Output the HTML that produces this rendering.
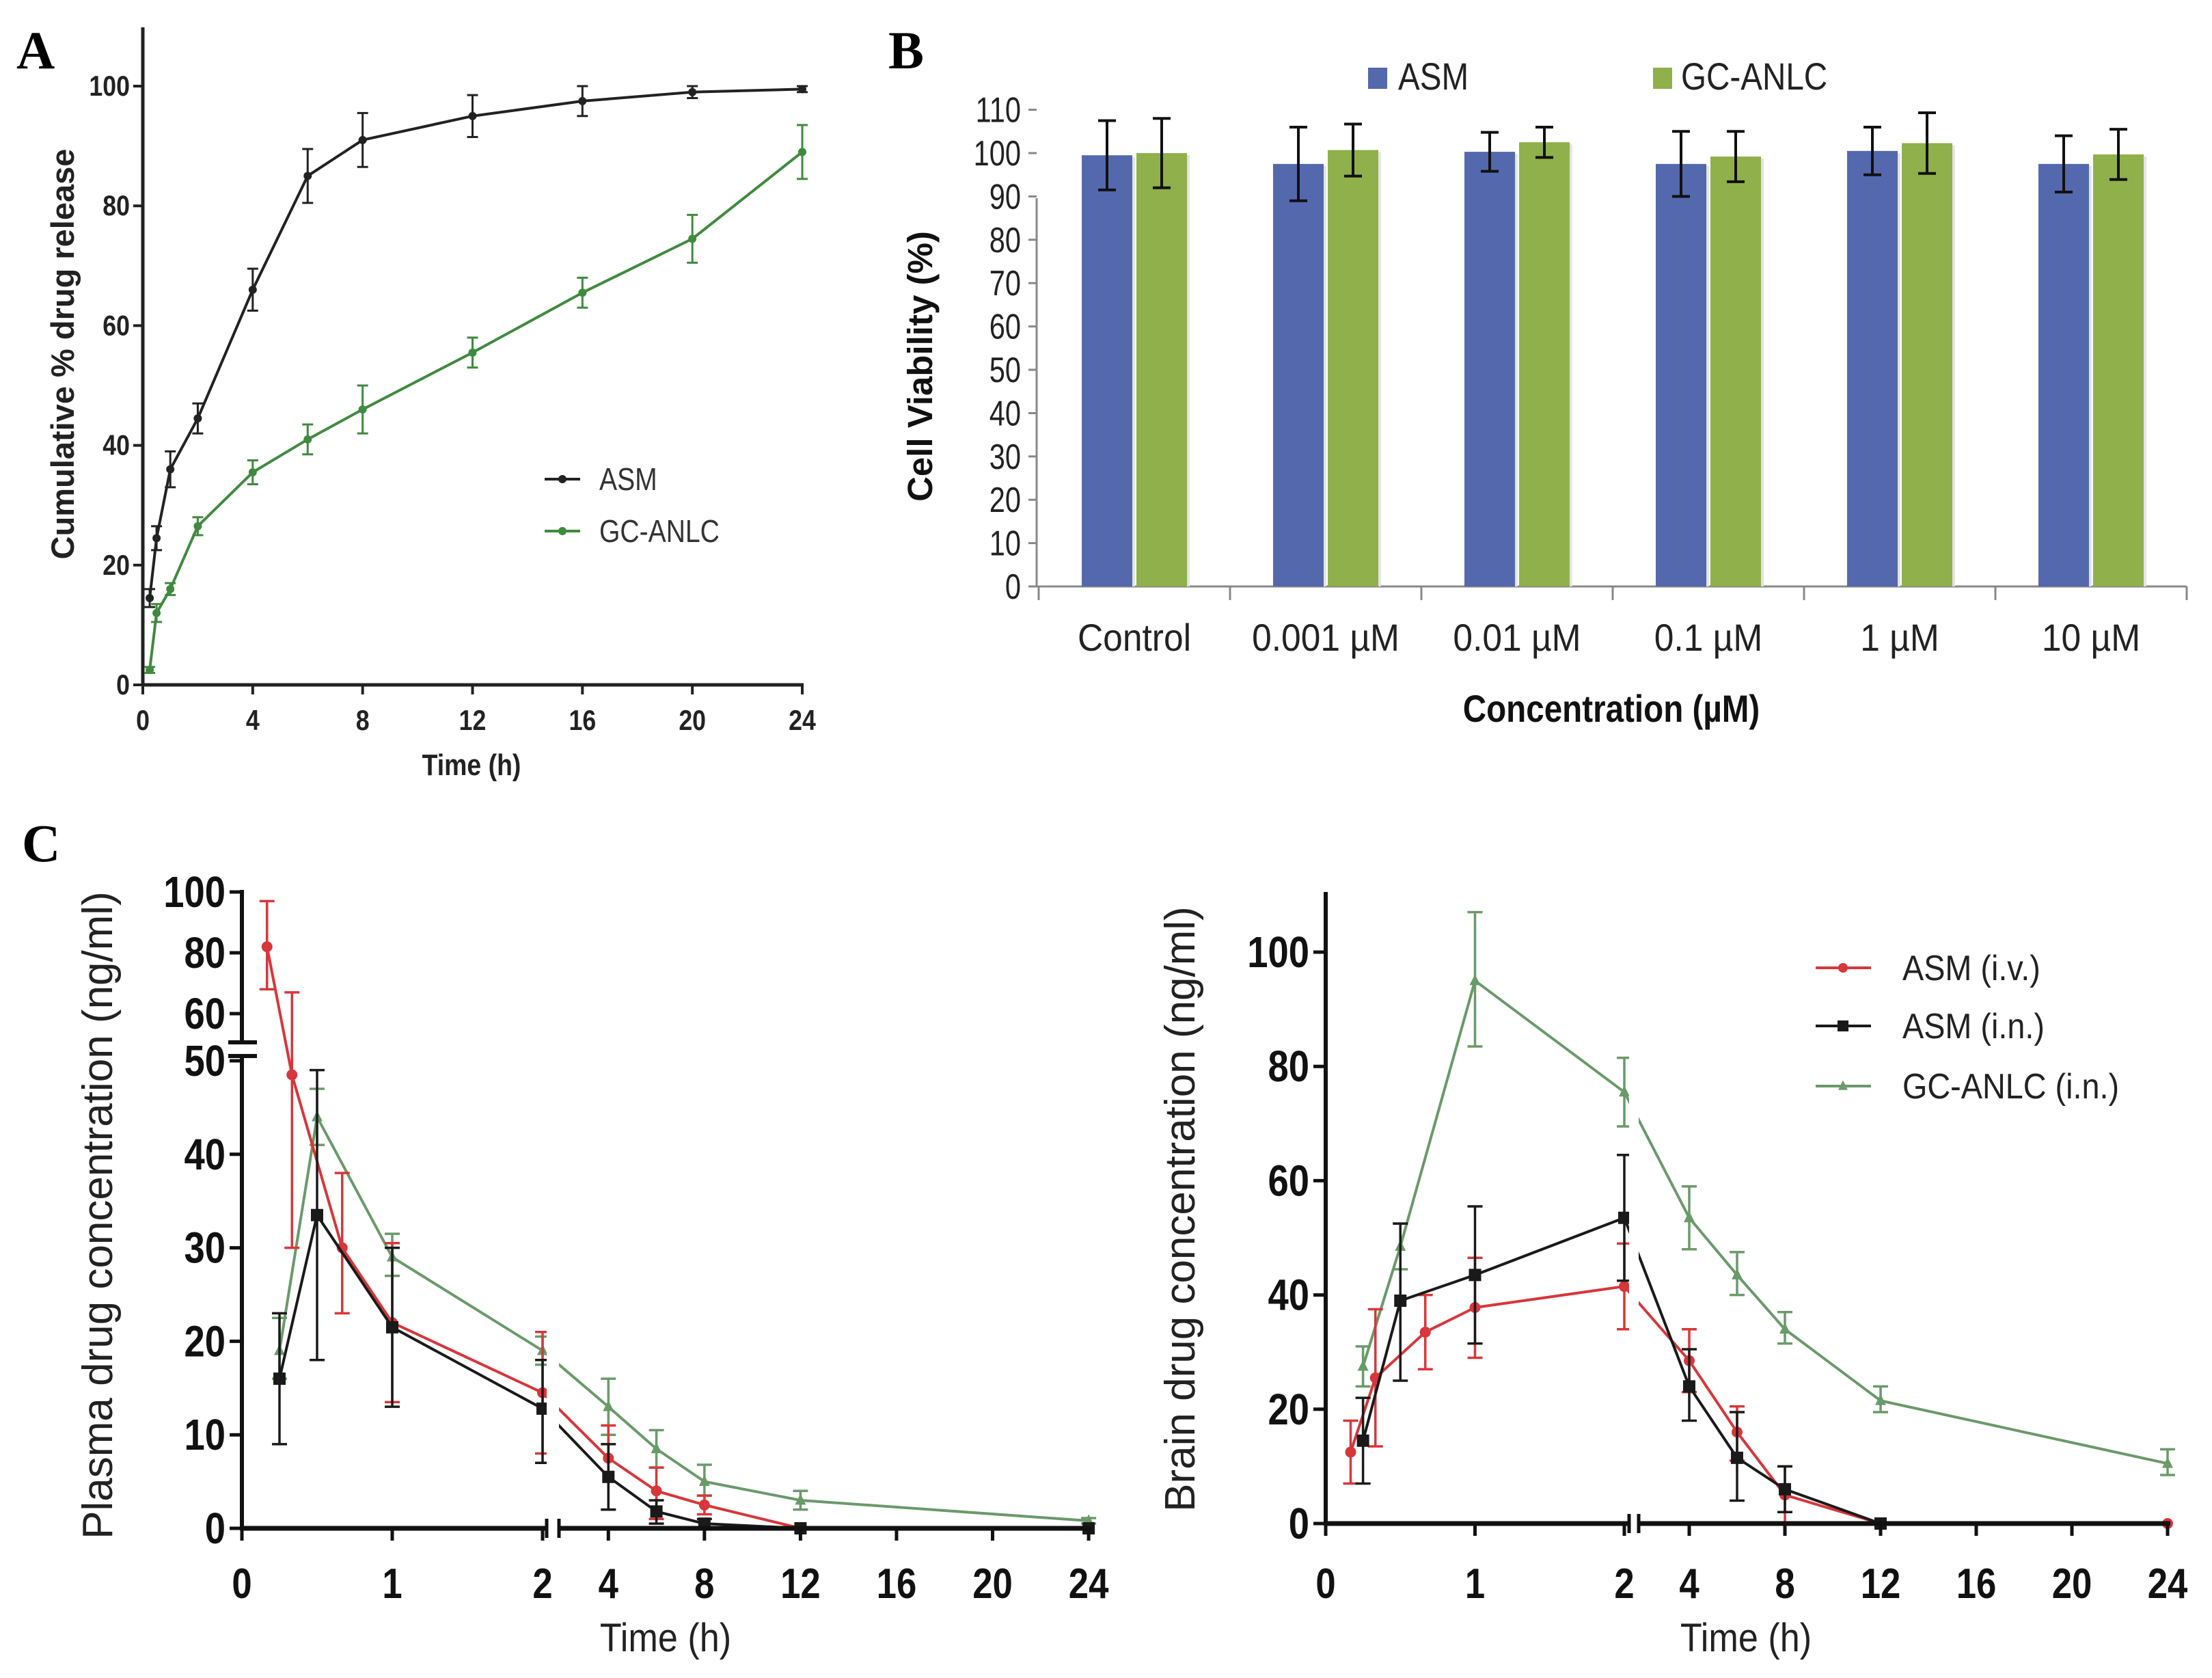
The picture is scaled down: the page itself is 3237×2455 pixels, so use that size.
<!DOCTYPE html>
<html><head><meta charset="utf-8"><style>
html,body{margin:0;padding:0;background:#fff;}
svg{display:block;}
</style></head><body>
<svg id="fig" xmlns="http://www.w3.org/2000/svg" width="3237" height="2455" viewBox="0 0 3237 2455" font-family="'Liberation Sans', sans-serif">
<rect width="3237" height="2455" fill="#fff"/>
<text x="24" y="100" font-family="'Liberation Serif', serif" font-weight="bold" font-size="78">A</text>
<text x="1300" y="100" font-family="'Liberation Serif', serif" font-weight="bold" font-size="78">B</text>
<text x="32" y="1260" font-family="'Liberation Serif', serif" font-weight="bold" font-size="78">C</text>
<g id="gA"></g>
<g id="gB"></g>
<g id="gC1"></g>
<g id="gC2"></g>
</svg>
<script>
// ---------- Panel A data ----------
const aTimes=[0.25,0.5,1,2,4,6,8,12,16,20,24];
const aAsm=[14.5,24.5,36,44.5,66,85,91,95,97.5,99,99.5];
const aAsmErr=[1.5,2,3,2.5,3.5,4.5,4.5,3.5,2.5,1,0.5];
const aGc=[2.5,12,16,26.5,35.5,41,46,55.5,65.5,74.5,89];
const aGcErr=[0.5,1.5,1,1.5,2,2.5,4,2.5,2.5,4,4.5];
const aXTicks=[0,4,8,12,16,20,24];
const aYTicks=[0,20,40,60,80,100];
// ---------- Panel B data ----------
const bCats=["Control","0.001 µM","0.01 µM","0.1 µM","1 µM","10 µM"];
const bAsm=[99.5,97.5,100.3,97.5,100.5,97.5];
const bAsmErr=[8,8.5,4.5,7.5,5.5,6.5];
const bGc=[100,100.7,102.5,99.2,102.3,99.7];
const bGcErr=[8,6,3.5,5.8,7,5.8];
const bYTicks=[0,10,20,30,40,50,60,70,80,90,100,110];
// ---------- Panel C plasma ----------
const pIvT=[0.167,0.333,0.667,1,2,4,6,8,12,24];
const pIv=[82,48.5,30,22,14.5,7.5,4,2.5,0,0];
const pIvLo=[68,30,23,13.5,8,2,1,1.5,0,0];
const pIvHi=[97,67,38,30.5,21,11,6.5,3.5,0,0];
const pInT=[0.25,0.5,1,2,4,6,8,12,24];
const pIn=[16,33.5,21.5,12.8,5.5,1.8,0.5,0,0];
const pInLo=[9,18,13,7,2,0.5,0,0,0];
const pInHi=[23,49,30,18,9,3,1,0,0];
const pGcT=[0.25,0.5,1,2,4,6,8,12,24];
const pGc=[19,44,29,19,13,8.5,5,3,0.8];
const pGcLo=[16,41,27,17.5,10,6.5,3.5,2,0.5];
const pGcHi=[22.5,47,31.5,20.5,16,10.5,6.8,4,1.1];
// ---------- Panel C brain ----------
const rIvT=[0.167,0.333,0.667,1,2,4,6,8,12,24];
const rIv=[12.5,25.5,33.5,37.8,41.5,28.5,16,5,0,0];
const rIvLo=[7,13.5,27,29,34,23,11,0,0,0];
const rIvHi=[18,37.5,40,46.5,49,34,20.5,10,0,0];
const rInT=[0.25,0.5,1,2,4,6,8,12];
const rIn=[14.5,39,43.5,53.5,24,11.5,6,0];
const rInLo=[7,25,31.5,42.5,18,4,2,0];
const rInHi=[22,52.5,55.5,64.5,30.5,19.5,10,0];
const rGcT=[0.25,0.5,1,2,4,6,8,12,24];
const rGc=[27.5,48.5,95,75.5,53.5,43.5,34,21.5,10.5];
const rGcLo=[24,44.5,83.5,69.5,48,40,31.5,19.5,8.5];
const rGcHi=[31,52.5,107,81.5,59,47.5,37,24,13];
const cXTicks=[0,1,2,4,8,12,16,20,24];

const NS="http://www.w3.org/2000/svg";
function mk(parent,tag,attrs,text){const e=document.createElementNS(NS,tag);for(const k in attrs)e.setAttribute(k,attrs[k]);if(text!==undefined)e.textContent=text;parent.appendChild(e);return e;}
function line(p,x1,y1,x2,y2,c,w){return mk(p,'line',{x1,y1,x2,y2,stroke:c,'stroke-width':w});}
function ebar(p,x,y1,y2,c,w,cap){const g=mk(p,'g',{});


line(g,x,y1,x,y2,c,w);line(g,x-cap,y1,x+cap,y1,c,w);line(g,x-cap,y2,x+cap,y2,c,w);return g;}
function poly(p,xs,ys,c,w){let d='';for(let i=0;i<xs.length;i++)d+=(i?'L':'M')+xs[i]+' '+ys[i];return mk(p,'path',{d,fill:'none',stroke:c,'stroke-width':w,'stroke-linejoin':'round'});}
function marker(p,type,x,y,c,s){
 if(type==='c')return mk(p,'circle',{cx:x,cy:y,r:s,fill:c});
 if(type==='s')return mk(p,'rect',{x:x-s,y:y-s,width:2*s,height:2*s,fill:c});
 return mk(p,'path',{d:`M${x} ${y-s*1.2}L${x+s} ${y+s*0.8}L${x-s} ${y+s*0.8}Z`,fill:c});
}
// narrow text: scaled horizontally around its anchor point
function ntext(p,x,y,str,attrs,sx){attrs.x=0;attrs.y=0;attrs.transform=`translate(${x},${y}) scale(${sx},1)`;return mk(p,'text',attrs,str);}

// ================= Panel A =================
(function(){
const g=document.getElementById('gA');
const X=t=>209+t*(1174-209)/24, Y=v=>1002-v*8.76;
line(g,209,40,209,1002,'#222',5);line(g,207,1002,1176,1002,'#222',5);
aYTicks.forEach(v=>{line(g,195,Y(v),209,Y(v),'#222',4);
 const t=ntext(g,190,Y(v)+14,String(v),{'text-anchor':'end','font-size':42,'font-weight':'bold',fill:'#222'},0.85);
 
 });
aXTicks.forEach(v=>{line(g,X(v),1002,X(v),1016,'#222',4);
 const t=ntext(g,X(v),1068,String(v),{'text-anchor':'middle','font-size':42,'font-weight':'bold',fill:'#222'},0.85);
 
 });
const xt=ntext(g,690,1134,'Time (h)',{'text-anchor':'middle','font-size':44,'font-weight':'bold',fill:'#222'},0.85);


const yt=mk(g,'text',{x:0,y:0,transform:'translate(108,518) rotate(-90)','text-anchor':'middle','font-size':47,'font-weight':'bold',fill:'#222'},'Cumulative % drug release');


const series=[[aAsm,aAsmErr,'#222','asm'],[aGc,aGcErr,'#3f8a3f','gc-anlc']];
series.forEach(([vals,err,c,n])=>{
 const sg=mk(g,'g',{});
 
 
 poly(sg,aTimes.map(X),vals.map(Y),c,4);
 aTimes.forEach((t,i)=>{ebar(sg,X(t),Y(vals[i]-err[i]),Y(vals[i]+err[i]),c,3,8);
  const m=marker(sg,'c',X(t),Y(vals[i]),c,6);
  
  });
});
[['ASM','#222',701],['GC-ANLC','#3f8a3f',777]].forEach(([l,c,y])=>{
 const lg=mk(g,'g',{});
 
 
 line(lg,797,y,849,y,c,4);marker(lg,'c',823,y,c,6);
 ntext(lg,877,y+16,l,{'font-size':46,fill:'#333'},0.85);
});
})();

// ================= Panel B =================
(function(){
const g=document.getElementById('gB');
const Y=v=>858-v*6.34, cw=280, x0=1520;
line(g,1517,290,1517,858,'#888',3);line(g,1517,858,3200,858,'#888',3);
bYTicks.forEach(v=>{line(g,1505,Y(v),1517,Y(v),'#888',3);
 const t=ntext(g,1494,Y(v)+18,String(v),{'text-anchor':'end','font-size':52,fill:'#222'},0.8);
 
 });
for(let i=0;i<=bCats.length;i++)line(g,x0+i*cw,858,x0+i*cw,878,'#888',3);
bCats.forEach((c,i)=>{
 const bx=x0+i*cw;
 [[bAsm,bAsmErr,'#5468ad',63,'asm'],[bGc,bGcErr,'#8fb04a',143,'gc-anlc']].forEach(([vals,err,col,off,n])=>{
  mk(g,'rect',{x:bx+off+4,y:Y(vals[i])+3,width:74,height:858-Y(vals[i])-3,fill:'#e4e4e4'});
  const r=mk(g,'rect',{x:bx+off,y:Y(vals[i]),width:74,height:858-Y(vals[i]),fill:col});
  
  
  ebar(g,bx+off+37,Y(vals[i]-err[i]),Y(vals[i]+err[i]),'#111',4,13);
 });
 const t=ntext(g,bx+140,952,c,{'text-anchor':'middle','font-size':56,fill:'#222'},0.92);
 
 
});
const xt=ntext(g,2358,1056,'Concentration (µM)',{'text-anchor':'middle','font-size':56,'font-weight':'bold',fill:'#111'},0.85);


const yt=mk(g,'text',{x:0,y:0,transform:'translate(1364,536) rotate(-90)','text-anchor':'middle','font-size':51,'font-weight':'bold',fill:'#111'},'Cell Viability (%)');


[['ASM','#5468ad',2002,2046],['GC-ANLC','#8fb04a',2419,2460]].forEach(([l,c,sx,tx])=>{
 const lg=mk(g,'g',{});
 
 
 mk(lg,'rect',{x:sx,y:99,width:28,height:31,fill:c});
 ntext(lg,tx,131,l,{'font-size':56,fill:'#222'},0.85);
});
})();

// ================= Panel C helper =================
function drawPK(g,X,Y,axis,series,yTicks,yTitle,yTitleX,tc){
 series.forEach(([ts,vals,lo,hi,c,mt,n])=>{
  const sg=mk(g,'g',{});
  
  
  poly(sg,ts.map(X),vals.map(Y),c,4);
  ts.forEach((t,i)=>{ if(hi[i]>lo[i])ebar(sg,X(t),Y(lo[i]),Y(hi[i]),c,3.5,11);
   const m=marker(sg,mt,X(t),Y(vals[i]),c,mt==='s'?9:8);
   
   });
 });
 mk(g,'rect',{x:axis.bx1,y:axis.top,width:axis.bx2-axis.bx1,height:axis.y0-axis.top+10,fill:'#fff'});
 line(g,axis.x0,axis.y0,axis.bx1,axis.y0,'#111',7);
 line(g,axis.bx2,axis.y0,X(24)+4,axis.y0,'#111',7);
 line(g,axis.bx1,axis.y0-14,axis.bx1,axis.y0+14,'#111',5);
 line(g,axis.bx2,axis.y0-14,axis.bx2,axis.y0+14,'#111',5);
 cXTicks.forEach(v=>{line(g,X(v),axis.y0,X(v),axis.y0+18,'#111',5);
  const t=ntext(g,X(v),2338,String(v),{'text-anchor':'middle','font-size':62,'font-weight':'bold',fill:'#111'},0.85);
  
  });
 yTicks.forEach(v=>{line(g,axis.x0-18,Y(v),axis.x0,Y(v),'#111',5);
  const t=ntext(g,axis.x0-24,Y(v)+22,String(v),{'text-anchor':'end','font-size':64,'font-weight':'bold',fill:'#111'},0.85);
  
  });
 const xt=ntext(g,tc.tx,2416,'Time (h)',{'text-anchor':'middle','font-size':58,fill:'#222'},0.9);
 
 
 const yt=mk(g,'text',{x:0,y:0,transform:`translate(${yTitleX},${tc.ty}) rotate(-90)`,'text-anchor':'middle','font-size':62,fill:'#222'},yTitle);
 
 
}

// ================= Panel C plasma =================
(function(){
const g=document.getElementById('gC1');
const X=t=>t<=2?354+t*220:820+(t-2)*35.14;
const Y=v=>v<=50?2236-v*13.68:1483-(v-60)*4.45;
drawPK(g,X,Y,{x0:354,y0:2236,bx1:800,bx2:818,top:1290},
 [[pGcT,pGc,pGcLo,pGcHi,'#6a9a6a','t','gc-anlc-in'],[pIvT,pIv,pIvLo,pIvHi,'#d8363a','c','asm-iv'],[pInT,pIn,pInLo,pInHi,'#1a1a1a','s','asm-in']],
 [0,10,20,30,40,50,60,80,100],'Plasma drug concentration (ng/ml)',164,{tx:974,ty:1778});
line(g,354,2239,354,1543,'#111',6);line(g,354,1525,354,1302,'#111',6);
line(g,334,1545,376,1545,'#111',6);line(g,334,1525,376,1525,'#111',6);
})();

// ================= Panel C brain =================
(function(){
const g=document.getElementById('gC2');
const X=t=>t<=2?1940+t*218.5:2402+(t-2)*35.0;
const Y=v=>2229-v*8.36;
drawPK(g,X,Y,{x0:1940,y0:2229,bx1:2384,bx2:2398,top:1300},
 [[rGcT,rGc,rGcLo,rGcHi,'#6a9a6a','t','gc-anlc-in'],[rIvT,rIv,rIvLo,rIvHi,'#d8363a','c','asm-iv'],[rInT,rIn,rInLo,rInHi,'#1a1a1a','s','asm-in']],
 [0,20,40,60,80,100],'Brain drug concentration (ng/ml)',1748,{tx:2555,ty:1769});
line(g,1940,2232,1940,1305,'#111',6);
[['ASM (i.v.)','#d8363a','c',1416],['ASM (i.n.)','#1a1a1a','s',1501],['GC-ANLC (i.n.)','#6a9a6a','t',1589]].forEach(([l,c,m,y])=>{
 const lg=mk(g,'g',{});
 
 
 line(lg,2657,y,2738,y,c,4);marker(lg,m,2697,y,c,m==='s'?8:7);
 ntext(lg,2784,y+18,l,{'font-size':52,fill:'#222'},0.9);
});
})();
</script>
</body></html>
